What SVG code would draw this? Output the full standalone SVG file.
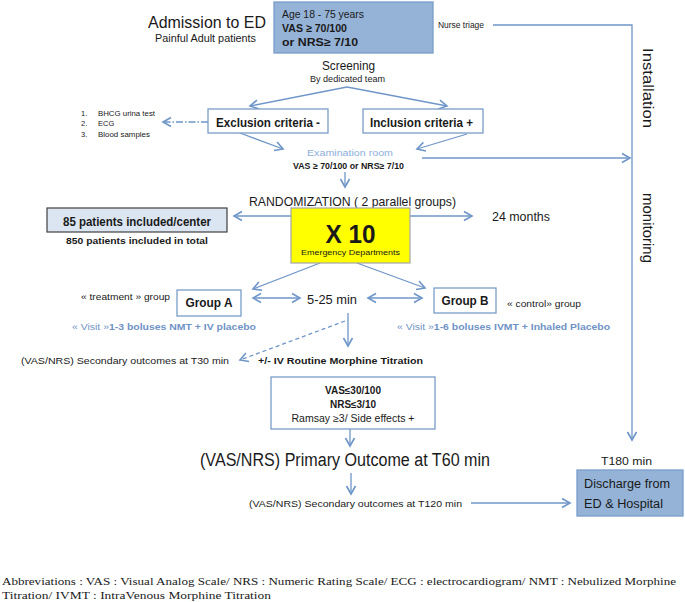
<svg xmlns="http://www.w3.org/2000/svg" width="685" height="602" viewBox="0 0 685 602">
<defs>
<marker id="ah" markerUnits="userSpaceOnUse" markerWidth="12" markerHeight="12" refX="9" refY="5" orient="auto-start-reverse" viewBox="0 0 12 10">
<path d="M1,0.5 L9,5 L1,9.5" fill="none" stroke="#6f96c8" stroke-width="1.6"/>
</marker>
<style>
text{font-family:"Liberation Sans",Arial,sans-serif;fill:#1a1a1a}
.b{font-weight:bold}
.blue{fill:#6f93c6}
.c{stroke:#6f96c8;stroke-width:1.3;fill:none}
.a{marker-end:url(#ah)}
.box{fill:#fff;stroke:#7a9dc9;stroke-width:1.3}
.bluebox{fill:#95b3d7;stroke:#7a9dc9;stroke-width:1.3}
.ab{font-family:"Liberation Serif","Times New Roman",serif;font-size:11px}
</style>
</defs>
<rect width="685" height="602" fill="#fff"/>

<g id="connectors">
<polyline class="c a" points="493,25 632,25 632,440"/>
<line class="c a" x1="347" y1="87" x2="250" y2="106"/>
<line class="c a" x1="347" y1="87" x2="447" y2="106"/>
<line class="c a" x1="208" y1="122" x2="163" y2="122" stroke-dasharray="7,2,1.5,2"/>
<line class="c a" x1="240" y1="133" x2="283" y2="149"/>
<line class="c a" x1="467" y1="134" x2="417" y2="149"/>
<line class="c a" x1="422" y1="158" x2="630" y2="158"/>
<line class="c a" x1="345" y1="172" x2="345" y2="187"/>
<line class="c a" x1="291" y1="216" x2="234" y2="216"/>
<line class="c a" x1="410" y1="216" x2="472" y2="216"/>
<line class="c a" x1="320" y1="263" x2="253" y2="289"/>
<line class="c a" x1="357" y1="263" x2="425" y2="288"/>
<line class="c a" x1="253" y1="298" x2="300" y2="298" marker-start="url(#ah)"/>
<line class="c a" x1="368" y1="298" x2="422" y2="298" marker-start="url(#ah)"/>
<line class="c a" x1="348" y1="313" x2="348" y2="346"/>
<line class="c a" x1="345" y1="321" x2="240" y2="360" stroke-dasharray="4,3"/>
<line class="c a" x1="350" y1="429" x2="350" y2="446"/>
<line class="c a" x1="351" y1="473" x2="351" y2="494"/>
<line class="c a" x1="471" y1="503" x2="570" y2="503"/>
</g>

<g id="admission">
<text x="148" y="28" font-size="17" textLength="118" lengthAdjust="spacingAndGlyphs">Admission to ED</text>
<text x="155" y="42" font-size="11" textLength="101" lengthAdjust="spacingAndGlyphs">Painful Adult patients</text>
</g>

<g id="criteria-box">
<rect class="bluebox" x="274" y="2" width="159" height="51"/>
<text x="282" y="18" font-size="11" textLength="82" lengthAdjust="spacingAndGlyphs">Age 18 - 75 years</text>
<text x="282" y="32" font-size="11" class="b" textLength="65" lengthAdjust="spacingAndGlyphs">VAS ≥ 70/100</text>
<text x="282" y="46" font-size="11" class="b" textLength="76" lengthAdjust="spacingAndGlyphs">or NRS≥ 7/10</text>
</g>

<g id="nurse-triage">
<text x="438" y="28" font-size="8.5" textLength="46" lengthAdjust="spacingAndGlyphs">Nurse triage</text>
</g>

<g id="side-labels">
<text transform="translate(643,48) rotate(90)" font-size="15" textLength="80" lengthAdjust="spacingAndGlyphs">Installation</text>
<text transform="translate(643,193) rotate(90)" font-size="15" textLength="70" lengthAdjust="spacingAndGlyphs">monitoring</text>
</g>

<g id="screening">
<text x="322" y="70" font-size="13" textLength="53" lengthAdjust="spacingAndGlyphs">Screening</text>
<text x="310" y="82" font-size="8.5" textLength="75" lengthAdjust="spacingAndGlyphs">By dedicated team</text>
</g>

<g id="exams-list" font-size="7.5">
<text x="81" y="116" font-size="7.5">1.</text><text x="98" y="116" font-size="7.5" textLength="57" lengthAdjust="spacingAndGlyphs">BHCG urina test</text>
<text x="81" y="126" font-size="7.5">2.</text><text x="98" y="126" font-size="7.5">ECG</text>
<text x="81" y="137" font-size="7.5">3.</text><text x="98" y="137" font-size="7.5" textLength="52" lengthAdjust="spacingAndGlyphs">Blood samples</text>
</g>

<g id="exclusion">
<rect class="box" x="208" y="109" width="120" height="24"/>
<text x="216" y="127" font-size="13" class="b" textLength="104" lengthAdjust="spacingAndGlyphs">Exclusion criteria -</text>
</g>

<g id="inclusion">
<rect class="box" x="363" y="109" width="120" height="24"/>
<text x="370" y="127" font-size="13" class="b" textLength="103" lengthAdjust="spacingAndGlyphs">Inclusion criteria +</text>
</g>

<g id="examination-room">
<text x="307" y="156" font-size="8.5" fill="#8eaedb" style="fill:#8eaedb" textLength="86" lengthAdjust="spacingAndGlyphs">Examination room</text>
<text x="293" y="169" font-size="8.5" class="b" textLength="111" lengthAdjust="spacingAndGlyphs">VAS ≥ 70/100 or NRS≥ 7/10</text>
</g>

<g id="randomization">
<text x="249" y="206" font-size="13" textLength="207" lengthAdjust="spacingAndGlyphs">RANDOMIZATION ( 2 parallel groups)</text>
</g>

<g id="x10">
<rect x="291" y="208" width="119" height="55" fill="#ffff00" stroke="#a6a6a6" stroke-width="1.2"/>
<text x="350.5" y="243" font-size="25" class="b" text-anchor="middle" textLength="50" lengthAdjust="spacingAndGlyphs">X 10</text>
<text x="350.5" y="255" font-size="7.5" text-anchor="middle" textLength="99" lengthAdjust="spacingAndGlyphs">Emergency Departments</text>
</g>

<g id="patients">
<rect x="47" y="208" width="180" height="24" fill="#dce6f2" stroke="#404040" stroke-width="1.2"/>
<text x="63" y="226" font-size="12" class="b" textLength="148" lengthAdjust="spacingAndGlyphs">85 patients included/center</text>
<text x="66" y="244" font-size="9.5" class="b" textLength="142" lengthAdjust="spacingAndGlyphs">850 patients included in total</text>
</g>

<g id="duration">
<text x="492" y="221" font-size="12" textLength="58" lengthAdjust="spacingAndGlyphs">24 months</text>
</g>

<g id="group-a">
<text x="81" y="300" font-size="8.5" textLength="89" lengthAdjust="spacingAndGlyphs">« treatment » group</text>
<rect class="box" x="177" y="290" width="64" height="26"/>
<text x="209" y="307" font-size="12" class="b" text-anchor="middle" textLength="47" lengthAdjust="spacingAndGlyphs">Group A</text>
<text x="72" y="330" font-size="9.5" class="blue" textLength="184" lengthAdjust="spacingAndGlyphs">« Visit »<tspan class="b">1-3 boluses NMT + IV placebo</tspan></text>
</g>

<g id="interval">
<text x="307" y="304" font-size="12" textLength="50" lengthAdjust="spacingAndGlyphs">5-25 min</text>
</g>

<g id="group-b">
<rect class="box" x="434" y="288" width="62" height="25"/>
<text x="465" y="305" font-size="12" class="b" text-anchor="middle" textLength="47" lengthAdjust="spacingAndGlyphs">Group B</text>
<text x="507" y="307" font-size="8.5" textLength="74" lengthAdjust="spacingAndGlyphs">« control» group</text>
<text x="397" y="330" font-size="9.5" class="blue" textLength="213" lengthAdjust="spacingAndGlyphs">« Visit »<tspan class="b">1-6 boluses IVMT + Inhaled Placebo</tspan></text>
</g>

<g id="t30">
<text x="21" y="364" font-size="9.5" textLength="208" lengthAdjust="spacingAndGlyphs">(VAS/NRS) Secondary outcomes at T30 min</text>
</g>

<g id="routine-titration">
<text x="258" y="364" font-size="9.5" class="b" textLength="165" lengthAdjust="spacingAndGlyphs">+/- IV Routine Morphine Titration</text>
</g>

<g id="stop-criteria">
<rect class="box" x="271" y="377" width="164" height="52"/>
<text x="353" y="394" font-size="10" class="b" text-anchor="middle">VAS≤30/100</text>
<text x="353" y="408" font-size="10" class="b" text-anchor="middle">NRS≤3/10</text>
<text x="353" y="422" font-size="10" text-anchor="middle" textLength="123" lengthAdjust="spacingAndGlyphs">Ramsay ≥3/ Side effects +</text>
</g>

<g id="primary-outcome">
<text x="200" y="466" font-size="18" textLength="290" lengthAdjust="spacingAndGlyphs">(VAS/NRS) Primary Outcome  at T60 min</text>
</g>

<g id="t120">
<text x="249" y="507" font-size="9.5" textLength="213" lengthAdjust="spacingAndGlyphs">(VAS/NRS) Secondary outcomes at T120 min</text>
</g>

<g id="discharge">
<text x="601" y="465" font-size="11" textLength="51" lengthAdjust="spacingAndGlyphs">T180 min</text>
<rect class="bluebox" x="577" y="470" width="106" height="46"/>
<text x="584" y="488" font-size="12.5" textLength="86" lengthAdjust="spacingAndGlyphs">Discharge from</text>
<text x="584" y="508" font-size="12.5" textLength="79" lengthAdjust="spacingAndGlyphs">ED &amp; Hospital</text>
</g>

<g id="abbreviations">
<text class="ab" x="2" y="585" textLength="674" lengthAdjust="spacingAndGlyphs">Abbreviations : VAS : Visual Analog Scale/ NRS : Numeric Rating Scale/ ECG : electrocardiogram/ NMT : Nebulized Morphine</text>
<text class="ab" x="2" y="599" textLength="269" lengthAdjust="spacingAndGlyphs">Titration/ IVMT : IntraVenous Morphine Titration</text>
</g>
</svg>
